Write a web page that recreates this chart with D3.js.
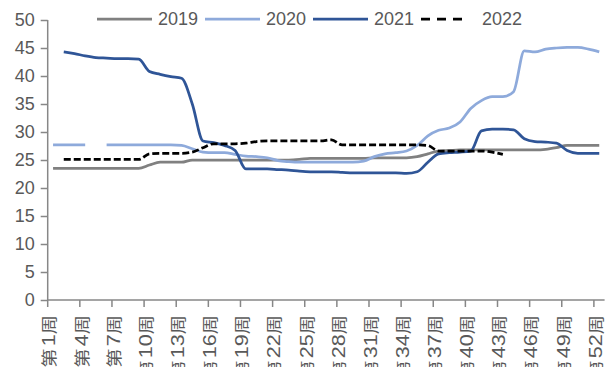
<!DOCTYPE html>
<html>
<head>
<meta charset="utf-8">
<script src="https://cdn.jsdelivr.net/npm/d3@7/dist/d3.min.js"></script>
<style>
  html, body { margin: 0; padding: 0; background: #fff; }
  svg { display: block; }
</style>
</head>
<body>
<svg id="chart" width="609" height="367"></svg>
<script>
// Week categories (第N周)
const weeks = [1,2,3,4,5,6,7,8,9,10,11,12,13,14,15,16,17,18,19,20,21,22,23,24,25,26,
               27,28,29,30,31,32,33,34,35,36,37,38,39,40,41,42,43,44,45,46,47,48,49,50,51,52];
const tickWeeks = [1,4,7,10,13,16,19,22,25,28,31,34,37,40,43,46,49,52];
const yTicks = [0,5,10,15,20,25,30,35,40,45,50];

// Weekly values by year (null = no data)
const v2019 = [23.5,23.5,23.5,23.5,23.5,23.5,23.5,23.5,23.5,24.1,24.6,24.6,24.6,
               25.0,25.0,25.0,25.0,25.0,25.0,25.0,25.0,25.0,25.0,25.1,25.3,25.3,
               25.3,25.3,25.3,25.3,25.4,25.4,25.4,25.4,25.6,26.1,26.6,26.7,26.8,
               26.8,26.8,26.8,26.8,26.8,26.8,26.8,26.9,27.2,27.6,27.6,27.6,27.6];
const v2020 = [27.7,27.7,27.7,27.7,null,27.7,27.7,27.7,27.7,27.7,27.7,27.7,27.6,
               27.0,26.4,26.3,26.3,26.0,25.7,25.6,25.4,24.9,24.7,24.6,24.6,24.6,
               24.6,24.6,24.6,24.8,25.6,26.1,26.3,26.6,27.6,29.3,30.3,30.7,31.8,
               34.2,35.6,36.3,36.3,37.2,44.5,44.3,44.8,45.0,45.1,45.1,44.8,44.3];
const v2021 = [null,44.3,44.0,43.6,43.3,43.2,43.1,43.1,43.0,40.8,40.3,39.9,39.6,
               35.0,28.4,28.1,27.6,26.7,23.4,23.4,23.4,23.3,23.2,23.0,22.9,22.9,
               22.9,22.8,22.7,22.7,22.7,22.7,22.7,22.6,22.9,24.6,26.1,26.3,26.4,
               26.6,30.2,30.5,30.5,30.4,28.8,28.3,28.2,28.0,26.7,26.2,26.2,26.2];
const v2022 = [null,25.1,25.1,25.1,25.1,25.1,25.1,25.1,25.1,26.1,26.2,26.2,26.2,
               26.4,27.2,27.9,27.9,27.9,28.0,28.3,28.4,28.4,28.4,28.4,28.4,28.4,
               28.6,27.7,27.7,27.7,27.7,27.7,27.7,27.7,27.7,27.6,26.6,26.6,26.6,
               26.6,26.6,26.4,26.0,null,null,null,null,null,null,null,null,null];

const seriesNames = ["2019","2020","2021","2022"];
const seriesValues = [v2019, v2020, v2021, v2022];
const seriesColors = ["#808080","#8eaadb","#2f5597","#000000"];
const seriesDash = [null, null, null, "7,3"];

const svg = d3.select("#chart");
const textColor = "#595959";
const axisColor = "#878787";
const latin = "'Liberation Sans', Arial, sans-serif";
const cjk = "'Noto Sans CJK SC', 'Noto Sans CJK JP', sans-serif";

const x = d3.scaleLinear().domain([0.5, 52.5]).range([47.7, 604.6]);
const y = d3.scaleLinear().domain([0, 50]).range([300, 20]);

// Y axis
const yAxis = svg.append("g")
  .attr("transform", `translate(${x(0.5)},0)`)
  .call(d3.axisLeft(y).tickValues(yTicks).tickSize(7).tickPadding(6));
yAxis.select(".domain").attr("stroke", axisColor).attr("stroke-width", 1.5)
  .attr("d", `M0,${y(50)}V${y(0)}`);
yAxis.selectAll(".tick line").attr("stroke", axisColor).attr("stroke-width", 1.5);
yAxis.selectAll(".tick text")
  .attr("fill", textColor).style("font-family", latin).style("font-size", "18px");

// X axis: ticks at the start of each labelled week
const xAxis = svg.append("g")
  .attr("transform", `translate(0,${y(0)})`);
xAxis.append("path")
  .attr("d", `M${x(0.5)},0H${x(52.5)}`)
  .attr("stroke", axisColor).attr("stroke-width", 1.5).attr("fill", "none");
xAxis.selectAll("line.tick")
  .data(tickWeeks).enter().append("line")
  .attr("class", "tick")
  .attr("x1", d => x(d - 0.5)).attr("x2", d => x(d - 0.5))
  .attr("y1", 0).attr("y2", 7)
  .attr("stroke", axisColor).attr("stroke-width", 1.5);

const labels = xAxis.selectAll("text.wk")
  .data(tickWeeks).enter().append("text")
  .attr("class", "wk")
  .attr("transform", d => `translate(${x(d - 0.5) + 2},15) rotate(-90) scale(1.2,1)`)
  .attr("text-anchor", "end")
  .attr("dy", "0.36em")
  .attr("fill", textColor);
labels.append("tspan").style("font-family", cjk).style("font-size", "16px").text("第");
labels.append("tspan").attr("dx", 2).style("font-family", latin).style("font-size", "18px").text(d => d);
labels.append("tspan").style("font-family", cjk).style("font-size", "16px").text("周");

// Lines
const line = d3.line()
  .defined(d => d.v !== null)
  .x(d => x(d.w))
  .y(d => y(d.v))
  .curve(d3.curveMonotoneX);

seriesNames.forEach((name, i) => {
  const pts = weeks.map((w, j) => ({ w: w, v: seriesValues[i][j] }));
  svg.append("path")
    .datum(pts)
    .attr("d", line)
    .attr("fill", "none")
    .attr("stroke", seriesColors[i])
    .attr("stroke-width", 2.75)
    .attr("stroke-linejoin", "round")
    .attr("stroke-dasharray", seriesDash[i]);
});

// Legend
const legendX = [97, 205, 313, 421];
const legend = svg.append("g").attr("transform", "translate(0,19)");
seriesNames.forEach((name, i) => {
  legend.append("line")
    .attr("x1", legendX[i]).attr("x2", legendX[i] + (i === 3 ? 47 : 55))
    .attr("y1", 0).attr("y2", 0)
    .attr("stroke", seriesColors[i])
    .attr("stroke-width", 2.75)
    .attr("stroke-dasharray", i === 3 ? "9,7" : null);
  legend.append("text")
    .attr("x", i === 3 ? 482 : legendX[i] + 61)
    .attr("y", 0)
    .attr("dy", "0.36em")
    .attr("fill", textColor)
    .style("font-family", latin)
    .style("font-size", "18px")
    .text(name);
});
</script>
</body>
</html>
